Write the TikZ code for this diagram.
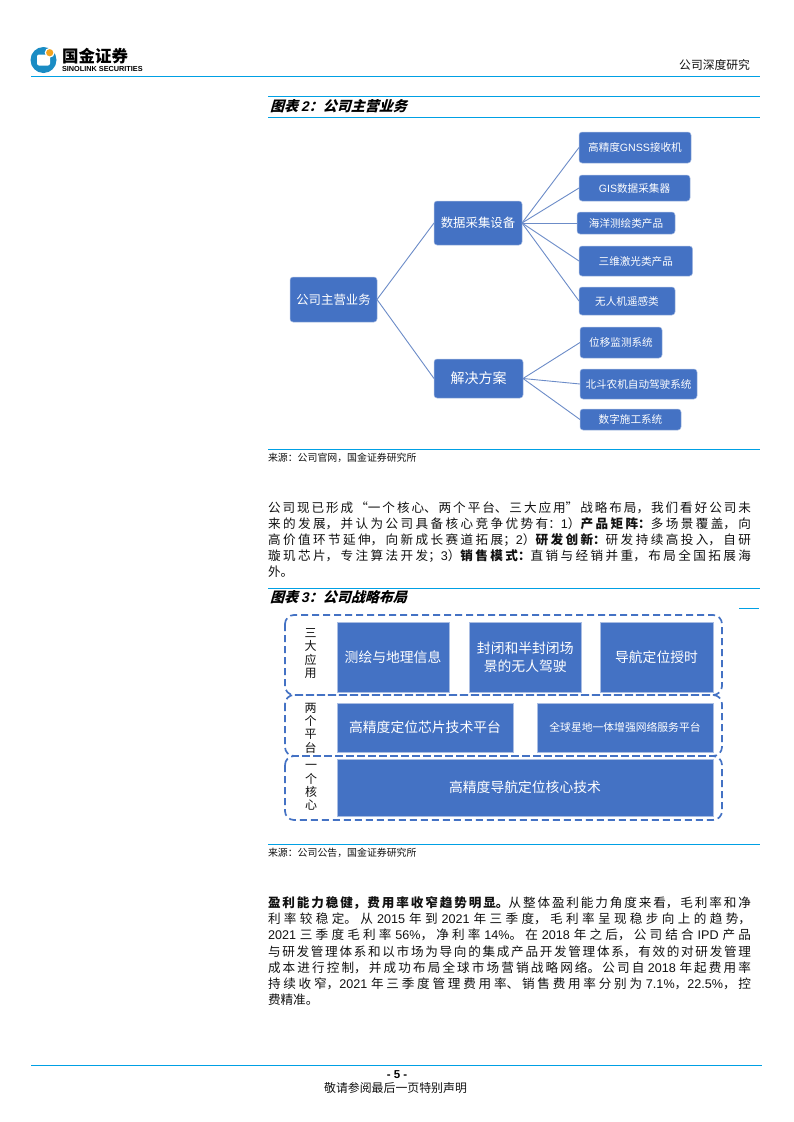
\documentclass[tikz,border=0pt]{standalone}
\usepackage{fontspec}
\setmainfont{Noto Sans CJK SC}
\newfontfamily\libsans{Liberation Sans}
\newfontfamily\slantcjk[FakeSlant=0.28]{Noto Sans CJK SC}
\newfontfamily\slantlat[FakeSlant=0.2]{Liberation Sans}
\XeTeXlinebreaklocale "zh"
\XeTeXlinebreakskip=0pt plus 4pt
\newcommand{\la}[1]{{\libsans #1}}
\definecolor{boxblue}{HTML}{4472C4}
\definecolor{boxedge}{HTML}{A9BDE3}
\definecolor{linkblue}{HTML}{6C8CC8}
\definecolor{rulecyan}{HTML}{00A0E4}
\definecolor{logoblue}{HTML}{1A8CC4}
\definecolor{logoorange}{HTML}{F2A31F}
\definecolor{inktext}{HTML}{111111}
\tikzset{
  x=1pt,y=-1pt,
  rulebar/.style={draw=rulecyan,line width=1pt},
  flat/.style={inner sep=0pt,outer sep=0pt},
  roundbox/.style={flat,draw=boxedge,line width=0.5pt,fill=boxblue,rounded corners=3pt,text=white,align=center},
  squarebox/.style={flat,draw=boxedge,line width=0.6pt,fill=boxblue,text=white,align=center},
  bigtext/.style={font=\fontsize{12.4}{15}\selectfont},
  midtext/.style={font=\fontsize{14}{17}\selectfont},
  leaftext/.style={font=\fontsize{10.6}{13}\selectfont},
  stratext/.style={font=\fontsize{13.8}{18}\selectfont},
  link/.style={draw=linkblue,line width=0.9pt},
  band/.style={draw=boxblue,line width=1.7pt,dash pattern=on 7pt off 4pt,rounded corners=9pt},
  sidelabel/.style={flat,align=center,text=inktext,font=\fontsize{12}{13.4}\selectfont},
  bodypara/.style={flat,anchor=north west,text width=483pt,align=justify,text=inktext,font=\fontsize{12.6}{16.17}\selectfont},
  sourcetext/.style={flat,anchor=west,text=inktext,font=\fontsize{9.9}{12}\selectfont},
  figtitle/.style={flat,anchor=west,text=black,font=\fontsize{14}{16}\selectfont\bfseries},
}
\newcommand{\boxat}[7]{% name, x1,y1,x2,y2, style, text
  \node[#6,minimum width=#4pt-#2pt,minimum height=#5pt-#3pt] (#1) at ({(#2+#4)/2},{(#3+#5)/2}) {#7};}
\begin{document}
\begin{tikzpicture}
\useasboundingbox (0,0) rectangle (793,1122);
\fill[white] (0,0) rectangle (793,1122);

% header
\fill[logoblue] (43.5,60) circle (13);
\fill[white,rounded corners=2pt] (37,54.5) rectangle (50,65.5);
\fill[white] (49.7,52.7) circle (5);
\fill[logoorange] (49.7,52.7) circle (3.6);
\node[flat,anchor=west,text=black,font=\fontsize{16.5}{18}\selectfont\bfseries] (logocn) at (62,56) {国金证券};
\node[flat,anchor=west,text=black,font=\fontsize{7.3}{9}\selectfont\libsans\bfseries] (logoen) at (62,68.5) {SINOLINK SECURITIES};
\node[flat,anchor=east,text=inktext,font=\fontsize{11.8}{14}\selectfont] (runhead) at (750,65) {公司深度研究};
\draw[rulebar] (31,76) -- (760,76);

% figure 2
\draw[rulebar] (268,96.5) -- (760,96.5);
\node[figtitle] (fig2title) at (270,106) {\slantcjk 图表 {\slantlat 2}：公司主营业务};
\draw[rulebar] (268,117) -- (760,117);

\boxat{root}{290}{277}{377}{322}{roundbox,bigtext}{公司主营业务}
\boxat{dev}{434}{201}{522}{245}{roundbox,bigtext}{数据采集设备}
\boxat{sol}{434}{359}{523}{398}{roundbox,midtext}{解决方案}
\boxat{a}{579}{132}{691}{163}{roundbox,leaftext}{高精度\la{GNSS}接收机}
\boxat{b}{579}{175}{690}{201}{roundbox,leaftext}{\la{GIS}数据采集器}
\boxat{c}{577}{212}{675}{234}{roundbox,leaftext}{海洋测绘类产品}
\boxat{d}{579}{246}{692.5}{276}{roundbox,leaftext}{三维激光类产品}
\boxat{e}{579}{287}{675}{315}{roundbox,leaftext}{无人机遥感类}
\boxat{f}{580}{327}{662}{358}{roundbox,leaftext}{位移监测系统}
\boxat{g}{580}{369}{697}{399}{roundbox,leaftext}{北斗农机自动驾驶系统}
\boxat{h}{580}{409}{681}{430}{roundbox,leaftext}{数字施工系统}

\draw[link] (root.east) -- (dev.west);
\draw[link] (root.east) -- (sol.west);
\foreach \t in {a,b,c,d,e} \draw[link] (dev.east) -- (\t.west);
\foreach \t in {f,g,h} \draw[link] (sol.east) -- (\t.west);

\draw[rulebar] (268,449) -- (760,449);
\node[sourcetext] (src2) at (268,458) {来源：公司官网，国金证券研究所};

% paragraph 1
\node[bodypara] (para1) at (268,501.5) {\tolerance=9999\hbadness=10000
公司现已形成“一个核心、两个平台、三大应用”战略布局，我们看好公司未\linebreak
来的发展，并认为公司具备核心竞争优势有：\la{1}）{\bfseries 产品矩阵：}多场景覆盖，向\linebreak
高价值环节延伸，向新成长赛道拓展；\la{2}）{\bfseries 研发创新：}研发持续高投入，自研\linebreak
璇玑芯片，专注算法开发；\la{3}）{\bfseries 销售模式：}直销与经销并重，布局全国拓展海\linebreak
外。};

% figure 3
\draw[rulebar] (268,588) -- (760,588);
\node[figtitle] (fig3title) at (270,597) {\slantcjk 图表 {\slantlat 3}：公司战略布局};
\draw[rulebar] (739,608.5) -- (759,608.5);

\draw[band] (285,615) rectangle (722,695);
\draw[band] (285,695) rectangle (722,756);
\draw[band] (285,756) rectangle (722,820);

\boxat{s1}{337}{622}{449}{692}{squarebox,stratext}{测绘与地理信息}
\boxat{s2}{469}{622}{581.5}{692}{squarebox,stratext}{封闭和半封闭场\\景的无人驾驶}
\boxat{s3}{600}{622}{713}{692}{squarebox,stratext}{导航定位授时}
\boxat{p1}{337}{703}{513}{752}{squarebox,stratext}{高精度定位芯片技术平台}
\boxat{p2}{537}{703}{713}{752}{squarebox,font=\fontsize{10.8}{13}\selectfont}{全球星地一体增强网络服务平台}
\boxat{k1}{337}{759}{713}{816}{squarebox,stratext}{高精度导航定位核心技术}

\node[sidelabel] (lab3) at (310.5,653.5) {三\\大\\应\\用};
\node[sidelabel] (lab2) at (310.5,728) {两\\个\\平\\台};
\node[sidelabel] (lab1) at (311,787.5) {一\\个\\核\\心};

\draw[rulebar] (268,844.5) -- (760,844.5);
\node[sourcetext] (src3) at (268,853) {来源：公司公告，国金证券研究所};

% paragraph 2
\node[bodypara] (para2) at (268,896.5) {\tolerance=9999\hbadness=10000
{\bfseries 盈利能力稳健，费用率收窄趋势明显。}从整体盈利能力角度来看，毛利率和净\linebreak
利率较稳定。从 \la{2015} 年到 \la{2021} 年三季度，毛利率呈现稳步向上的趋势，\linebreak
\la{2021} 三季度毛利率 \la{56\%}，净利率 \la{14\%}。在 \la{2018} 年之后，公司结合 \la{IPD} 产品\linebreak
与研发管理体系和以市场为导向的集成产品开发管理体系，有效的对研发管理\linebreak
成本进行控制，并成功布局全球市场营销战略网络。公司自 \la{2018} 年起费用率\linebreak
持续收窄，\la{2021} 年三季度管理费用率、销售费用率分别为 \la{7.1\%}，\la{22.5\%}，控\linebreak
费精准。};

% footer
\draw[rulebar] (31,1065) -- (762,1065);
\node[flat,text=black,font=\fontsize{11.5}{14}\selectfont\libsans\bfseries] (pageno) at (397,1074.5) {- 5 -};
\node[flat,text=inktext,font=\fontsize{11.9}{14}\selectfont] (disc) at (395.5,1088) {敬请参阅最后一页特别声明};
\end{tikzpicture}
\end{document}
